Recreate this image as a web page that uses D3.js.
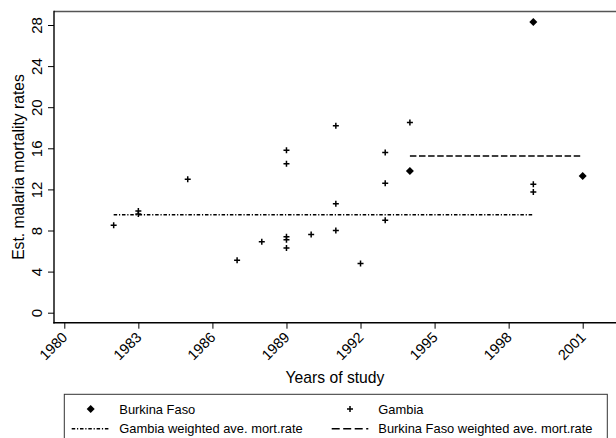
<!DOCTYPE html>
<html>
<head>
<meta charset="utf-8">
<script src="https://cdn.jsdelivr.net/npm/d3@7"></script>
<style>
  body { margin: 0; background: #fff; }
  svg { display: block; font-family: "Liberation Sans", Arial, sans-serif; }
</style>
</head>
<body>
<div id="chart"></div>
<script>
// donnees
const gambiaYears = [1982, 1983, 1983, 1985, 1987, 1988, 1989, 1989, 1989, 1989, 1989, 1990, 1991, 1991, 1991, 1992, 1993, 1993, 1993, 1994, 1999, 1999];
const gambiaRates = [8.5, 9.9, 9.6, 13.0, 5.1, 6.9, 15.8, 14.5, 7.4, 7.1, 6.3, 7.6, 18.2, 10.6, 8.0, 4.8, 15.6, 12.6, 9.0, 18.5, 12.5, 11.75];
const burkinaYears = [1994, 1999, 2001];
const burkinaRates = [13.8, 28.3, 13.3];
const gambiaAvg = { from: 1982, to: 1999, value: 9.54 };
const burkinaAvg = { from: 1994, to: 2001, value: 15.25 };
const xTicks = [1980, 1983, 1986, 1989, 1992, 1995, 1998, 2001];
const yTicks = [0, 4, 8, 12, 16, 20, 24, 28];

const W = 616, H = 438;
const plotLeft = 54, plotTop = 11.5, plotBottom = 322.7;

const svg = d3.select("#chart").append("svg")
    .attr("width", W)
    .attr("height", H);

const x = d3.scaleLinear().domain([1980, 2001]).range([64.3, 582.7]);
const y = d3.scaleLinear().domain([0, 28]).range([312.7, 25]);

// cadre du graphique
svg.append("line")
    .attr("x1", plotLeft).attr("x2", W + 5)
    .attr("y1", plotTop).attr("y2", plotTop)
    .attr("stroke", "#555").attr("stroke-width", 1.4);

// axe Y
const yAxis = svg.append("g")
    .attr("transform", `translate(${plotLeft},0)`)
    .call(d3.axisLeft(y).tickValues(yTicks).tickSize(6).tickSizeOuter(0).tickPadding(0));
yAxis.select(".domain").remove();
yAxis.append("line")
    .attr("x1", 0).attr("x2", 0)
    .attr("y1", plotTop - 0.7).attr("y2", plotBottom + 0.7)
    .attr("stroke", "#000").attr("stroke-width", 1.4);
yAxis.selectAll(".tick line").attr("stroke", "#000").attr("stroke-width", 1);
yAxis.selectAll(".tick text")
    .attr("x", null).attr("dy", null)
    .attr("transform", "translate(-12.5,0) rotate(-90)")
    .attr("text-anchor", "middle")
    .attr("font-size", 15)
    .attr("fill", "#000");

// axe X
const xAxis = svg.append("g")
    .attr("transform", `translate(0,${plotBottom})`)
    .call(d3.axisBottom(x).tickValues(xTicks).tickFormat(d3.format("d")).tickSize(6).tickSizeOuter(0));
xAxis.select(".domain").remove();
xAxis.append("line")
    .attr("x1", plotLeft - 0.7).attr("x2", W + 5)
    .attr("y1", 0).attr("y2", 0)
    .attr("stroke", "#000").attr("stroke-width", 1.4);
xAxis.selectAll(".tick line").attr("stroke", "#000").attr("stroke-width", 1);
xAxis.selectAll(".tick text")
    .attr("y", null).attr("dy", null)
    .attr("transform", "translate(3.5,15.5) rotate(-45)")
    .attr("text-anchor", "end")
    .attr("font-size", 14.5)
    .attr("fill", "#000");

// titres
svg.append("text")
    .attr("x", 335).attr("y", 383)
    .attr("text-anchor", "middle")
    .attr("font-size", 15.7)
    .text("Years of study");

svg.append("text")
    .attr("transform", "translate(23.5,167) rotate(-90)")
    .attr("text-anchor", "middle")
    .attr("font-size", 15.7)
    .text("Est. malaria mortality rates");

// moyennes ponderees
const dashDot = "3.5,1.8,1.2,1.8";
svg.append("line")
    .attr("x1", x(gambiaAvg.from)).attr("x2", x(gambiaAvg.to))
    .attr("y1", y(gambiaAvg.value)).attr("y2", y(gambiaAvg.value))
    .attr("stroke", "#000").attr("stroke-width", 1.5)
    .attr("stroke-dasharray", dashDot);

svg.append("line")
    .attr("x1", x(burkinaAvg.from)).attr("x2", x(burkinaAvg.to))
    .attr("y1", y(burkinaAvg.value)).attr("y2", y(burkinaAvg.value))
    .attr("stroke", "#000").attr("stroke-width", 1.4)
    .attr("stroke-dasharray", "6.5,2.6");

// points
const plusPath = "M-3,0H3M0,-3V3";
const diamond = d3.symbol(d3.symbolSquare, 32);

svg.selectAll(".gambia")
    .data(gambiaYears.map((d, i) => [d, gambiaRates[i]]))
    .enter()
    .append("path")
    .attr("class", "gambia")
    .attr("d", plusPath)
    .attr("transform", d => `translate(${x(d[0])},${y(d[1])})`)
    .attr("stroke", "#000")
    .attr("stroke-width", 1.5)
    .attr("fill", "none");

svg.selectAll(".burkina")
    .data(burkinaYears.map((d, i) => [d, burkinaRates[i]]))
    .enter()
    .append("path")
    .attr("class", "burkina")
    .attr("d", diamond)
    .attr("transform", d => `translate(${x(d[0])},${y(d[1])}) rotate(45)`)
    .attr("fill", "#000");

// legende
const leg = svg.append("g");
leg.append("rect")
    .attr("x", 64.3).attr("y", 394.3)
    .attr("width", 543).attr("height", 60)
    .attr("fill", "#fff")
    .attr("stroke", "#333").attr("stroke-width", 1);

leg.append("path")
    .attr("d", diamond)
    .attr("transform", "translate(90.7,409) rotate(45)")
    .attr("fill", "#000");
leg.append("text").attr("x", 119.3).attr("y", 413.5).attr("font-size", 12.9).text("Burkina Faso");

leg.append("path")
    .attr("d", plusPath)
    .attr("transform", "translate(350,409)")
    .attr("stroke", "#000").attr("stroke-width", 1.5);
leg.append("text").attr("x", 378.3).attr("y", 413.5).attr("font-size", 12.9).text("Gambia");

leg.append("line")
    .attr("x1", 71.7).attr("x2", 110).attr("y1", 428.7).attr("y2", 428.7)
    .attr("stroke", "#000").attr("stroke-width", 1.5)
    .attr("stroke-dasharray", dashDot);
leg.append("text").attr("x", 119.3).attr("y", 433).attr("font-size", 12.9).text("Gambia weighted ave. mort.rate");

leg.append("line")
    .attr("x1", 331.7).attr("x2", 368.3).attr("y1", 428.7).attr("y2", 428.7)
    .attr("stroke", "#000").attr("stroke-width", 1.4)
    .attr("stroke-dasharray", "8,3.5");
leg.append("text").attr("x", 378.3).attr("y", 433).attr("font-size", 12.9).text("Burkina Faso weighted ave. mort.rate");
</script>
</body>
</html>
